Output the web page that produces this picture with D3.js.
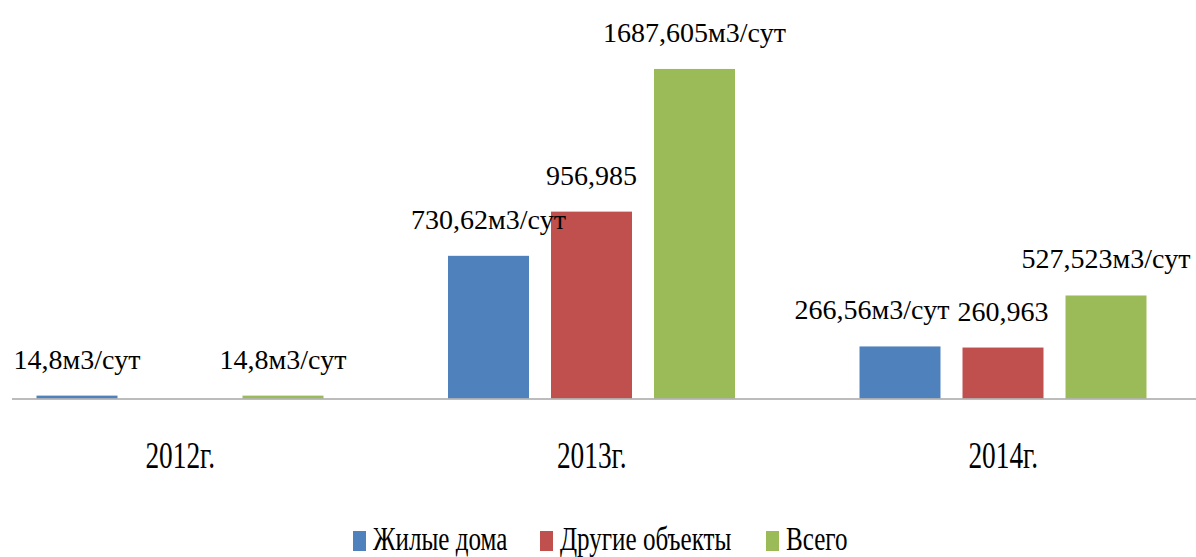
<!DOCTYPE html>
<html>
<head>
<meta charset="utf-8">
<script src="https://cdn.jsdelivr.net/npm/d3@7"></script>
<style>
  html, body { margin: 0; padding: 0; background: #fff; }
  svg { display: block; }
  svg text { font-family: "Liberation Serif", "Tinos", "DejaVu Serif", serif; }
</style>
</head>
<body>
<svg id="chart" width="1196" height="557"></svg>
<script>
const years = ['2012г.', '2013г.', '2014г.'];
const seriesNames = ['Жилые дома', 'Другие объекты', 'Всего'];
const colors = ['#4f81bd', '#c0504d', '#9bbb59'];

const housing = [14.8, 730.62, 266.56];
const other = [0, 956.985, 260.963];
const total = [14.8, 1687.605, 527.523];

const housingLabels = ['14,8м3/сут', '730,62м3/сут', '266,56м3/сут'];
const otherLabels = ['', '956,985', '260,963'];
const totalLabels = ['14,8м3/сут', '1687,605м3/сут', '527,523м3/сут'];

// the 2014 housing label was nudged left in the original so it doesn't hit its neighbour
const housingLabelShift = [0, 0, -28];

const values = [housing, other, total];
const labels = [housingLabels, otherLabels, totalLabels];
const shifts = [housingLabelShift, [0, 0, 0], [0, 0, 0]];

const width = 1196, height = 557;
const baseline = 398.5;
const svg = d3.select('#chart');

const x0 = d3.scaleBand().domain(years).range([-25.5, 1209]);
const x1 = d3.scaleBand().domain(d3.range(3)).range([62, 349]).paddingInner(22 / 103);
const y = d3.scaleLinear().domain([0, 1800]).range([baseline, 47]);

const groups = svg.append('g')
    .selectAll('g')
    .data(years)
    .join('g')
    .attr('transform', d => `translate(${x0(d)},0)`);

groups.selectAll('rect')
    .data((d, i) => values.map((s, k) => ({ k, v: s[i] })))
    .join('rect')
    .attr('x', d => x1(d.k))
    .attr('width', x1.bandwidth())
    .attr('y', d => y(d.v))
    .attr('height', d => baseline - y(d.v))
    .attr('fill', d => colors[d.k]);

groups.selectAll('text.val')
    .data((d, i) => values.map((s, k) => ({ k, v: s[i], t: labels[k][i], dx: shifts[k][i] })))
    .join('text')
    .attr('class', 'val')
    .attr('x', d => x1(d.k) + x1.bandwidth() / 2 + d.dx)
    .attr('y', d => y(d.v) - 27)
    .attr('text-anchor', 'middle')
    .attr('font-size', 28)
    .attr('fill', '#000')
    .text(d => d.t);

// category axis
const axis = svg.append('g')
    .attr('transform', `translate(0,${baseline})`)
    .call(d3.axisBottom(x0).tickSize(0).tickPadding(0));
axis.attr('font-family', null);
axis.select('.domain').remove();
axis.append('line')
    .attr('x1', 12).attr('x2', width)
    .attr('y1', 0.5).attr('y2', 0.5)
    .attr('stroke', '#a6a6a6')
    .attr('stroke-width', 1.5);
axis.selectAll('.tick text')
    .attr('y', 70)
    .attr('dy', 0)
    .attr('font-size', 38)
    .attr('fill', '#000')
    .attr('transform', 'scale(0.72,1)');

// legend
const legendX = [353, 540, 766];
const legend = svg.append('g')
    .selectAll('g')
    .data(seriesNames)
    .join('g')
    .attr('transform', (d, i) => `translate(${legendX[i]},0)`);

legend.append('rect')
    .attr('x', 0).attr('y', 531)
    .attr('width', 13).attr('height', 20)
    .attr('fill', (d, i) => colors[i]);

legend.append('text')
    .attr('transform', 'translate(20,550) scale(0.76,1)')
    .attr('font-size', 33)
    .attr('fill', '#000')
    .text(d => d);
</script>
</body>
</html>
